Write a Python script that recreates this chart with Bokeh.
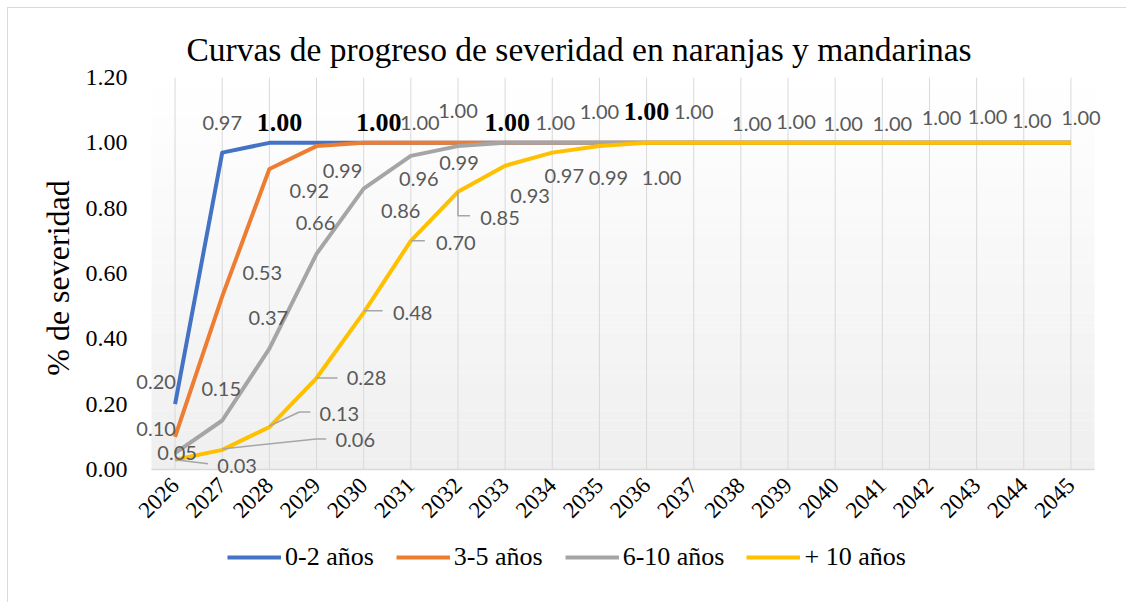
import math
from bokeh.plotting import figure
from bokeh.layouts import column
from bokeh.models import (FixedTicker, NumeralTickFormatter, Legend, LegendItem,
                          ColumnDataSource, Range1d)
from bokeh.core.properties import value
from bokeh.embed import file_html
from bokeh.resources import INLINE

# ---------------- data ----------------
years = [2026, 2027, 2028, 2029, 2030, 2031, 2032, 2033, 2034, 2035,
         2036, 2037, 2038, 2039, 2040, 2041, 2042, 2043, 2044, 2045]
series_names = ["0-2 años", "3-5 años", "6-10 años", "+ 10 años"]
sev_0_2 = [0.20, 0.97, 1.00, 1.00, 1.00, 1.00, 1.00, 1.00, 1.00, 1.00,
           1.00, 1.00, 1.00, 1.00, 1.00, 1.00, 1.00, 1.00, 1.00, 1.00]
sev_3_5 = [0.10, 0.53, 0.92, 0.99, 1.00, 1.00, 1.00, 1.00, 1.00, 1.00,
           1.00, 1.00, 1.00, 1.00, 1.00, 1.00, 1.00, 1.00, 1.00, 1.00]
sev_6_10 = [0.05, 0.15, 0.37, 0.66, 0.86, 0.96, 0.99, 1.00, 1.00, 1.00,
            1.00, 1.00, 1.00, 1.00, 1.00, 1.00, 1.00, 1.00, 1.00, 1.00]
sev_10p = [0.03, 0.06, 0.13, 0.28, 0.48, 0.70, 0.85, 0.93, 0.97, 0.99,
           1.00, 1.00, 1.00, 1.00, 1.00, 1.00, 1.00, 1.00, 1.00, 1.00]
y_ticks = [0.0, 0.2, 0.4, 0.6, 0.8, 1.0, 1.2]
title_text = "Curvas de progreso de severidad en naranjas y mandarinas"
y_title = "% de severidad"

# ---------------- styles ----------------
colors = ["#4472C4", "#ED7D31", "#A5A5A5", "#FFC000"]
SERIF = "Liberation Serif"
LABEL_FONT = "Lato"
LABEL_COLOR = "#595959"
BORDER = "1px solid #d9d9d9"

# label offsets in pixels (dx, dy) for every point; None = no label; bold flag
lab_0_2 = [(-19, -22), (0, -30), (10, -20), None, (15, -20), (9, -20), (0, -32),
           (2, -20), (3, -20), (0, -31), (0, -31), (0, -31), (11, -19), (8, -21),
           (8, -19), (10, -19), (12, -25), (11, -26), (8, -22), (10, -25)]
bold_0_2 = [False, False, True, False, True, False, False, True, False, False,
            True, False, False, False, False, False, False, False, False, False]
lab_3_5 = [(-19, -8), (40, -23), (40, 22), (26, 25)] + [None] * 16
lab_6_10 = [(2, 0), (-1, -32), (-1, -31), (-1, -31), (37, 22), (8, 23), (1, 17)] + [None] * 13
lab_10p = [(62, 6), (133, -10), (70, -13), (50, 0), (49, 0), (45, 2), (42, 26),
           (25, 30), (12, 23), (9, 32), (15, 35)] + [None] * 9
# leader line waypoints (pixel offsets from the point) for the "+ 10 años" labels
lead_10p = [[(0, 0), (33, 4)], [(0, -1), (94, -11), (104, -11)],
            [(0, -1), (30, -15), (41, -15)], [(0, 0), (21, 0)], [(0, -2), (19, -2)],
            [(0, 0), (14, 0)], [(0, 0), (0, 24), (12, 24)]]

# plot area (categories) and extra frame room for labels, in pixels
AREA_W, AREA_H = 943, 392
PAD_L, PAD_R, PAD_B = 20, 15, 9
A0, A1 = 2025.5, 2045.5          # category band edges
Y0, Y1 = 0.0, 1.2
PX_X = AREA_W / (A1 - A0)
PX_Y = AREA_H / (Y1 - Y0)
FRAME_W = AREA_W + PAD_L + PAD_R
FRAME_H = AREA_H + PAD_B
ML, MT = 123, 69
W, H1, H2 = 1118, 532, 62

p = figure(width=W, height=H1, output_backend="svg", toolbar_location=None,
           x_range=Range1d(A0 - PAD_L / PX_X, A1 + PAD_R / PX_X),
           y_range=Range1d(Y0 - PAD_B / PX_Y, Y1),
           min_border_left=ML, min_border_right=W - ML - FRAME_W,
           min_border_top=MT, min_border_bottom=H1 - MT - FRAME_H)
p.outline_line_color = None
p.background_fill_color = "white"
p.border_fill_color = "white"

# plot-area gradient (white at top to light gray at bottom)
nb = 40
b_bottom = [Y0 + (Y1 - Y0) * i / nb for i in range(nb)]
b_top = [Y0 + (Y1 - Y0) * (i + 1) / nb for i in range(nb)]
b_cols = []
for i in range(nb):
    t = (i + 0.5) / nb
    g = int(round(239 + (255 - 239) * t))
    b_cols.append("#%02x%02x%02x" % (g, g, g))
bands = p.quad(left=A0, right=A1, bottom=b_bottom, top=b_top, fill_color=b_cols,
               line_color=None)
bands.level = "image"
# vertical gridlines at each category and the category axis line
grid = p.segment(x0=years, y0=Y0, x1=years, y1=Y1, line_color="#d9d9d9", line_width=1)
grid.level = "image"
axl = p.segment(x0=[A0], y0=[Y0], x1=[A1], y1=[Y0], line_color="#d9d9d9", line_width=1.5)
axl.level = "image"

# axes
p.xaxis.ticker = FixedTicker(ticks=years)
p.xaxis.major_label_orientation = math.pi / 4
p.xaxis.axis_line_color = None
p.xaxis.major_tick_line_color = None
p.xaxis.minor_tick_line_color = None
p.xaxis.major_tick_out = 0
p.xaxis.major_tick_in = 0
p.xaxis.major_label_text_font = SERIF
p.xaxis.major_label_text_font_size = "23px"
p.xaxis.major_label_text_color = "black"
p.xaxis.major_label_standoff = 3

p.yaxis.ticker = FixedTicker(ticks=y_ticks)
p.yaxis.formatter = NumeralTickFormatter(format="0.00")
p.yaxis.axis_line_color = None
p.yaxis.major_tick_line_color = None
p.yaxis.minor_tick_line_color = None
p.yaxis.major_tick_out = 0
p.yaxis.major_tick_in = 0
p.yaxis.major_label_text_font = SERIF
p.yaxis.major_label_text_font_size = "24px"
p.yaxis.major_label_text_color = "black"
p.yaxis.major_label_standoff = 4
p.yaxis.axis_label = y_title
p.yaxis.axis_label_text_font = SERIF
p.yaxis.axis_label_text_font_size = "32px"
p.yaxis.axis_label_text_font_style = "normal"
p.yaxis.axis_label_text_color = "black"
p.yaxis.axis_label_standoff = 7

p.xgrid.grid_line_color = None
p.ygrid.grid_line_color = None

p.title.text = title_text
p.title.text_font = SERIF
p.title.text_font_size = "33.5px"
p.title.text_font_style = "normal"
p.title.text_color = "black"
p.title.align = "left"
p.title.offset = 55
p.title.standoff = 20

# lines
all_series = [sev_0_2, sev_3_5, sev_6_10, sev_10p]
for vals, col in zip(all_series, colors):
    p.line(years, vals, line_width=4, line_color=col, line_join="round")

# leader lines
lx, ly = [], []
for i, pts in enumerate(lead_10p):
    lx.append([years[i] + dx / PX_X for dx, dy in pts])
    ly.append([sev_10p[i] - dy / PX_Y for dx, dy in pts])
p.multi_line(lx, ly, line_color="#a6a6a6", line_width=1.5)

# data labels
def add_labels(vals, labs, bolds=None):
    norm = dict(x=[], y=[], t=[], dx=[], dy=[])
    bold = dict(x=[], y=[], t=[], dx=[], dy=[])
    for i, lab in enumerate(labs):
        if lab is None:
            continue
        d = bold if (bolds is not None and bolds[i]) else norm
        d["x"].append(years[i])
        d["y"].append(vals[i])
        d["t"].append("%.2f" % vals[i])
        d["dx"].append(lab[0])
        d["dy"].append(lab[1])
    if norm["x"]:
        p.text(x="x", y="y", text="t", x_offset="dx", y_offset="dy",
               source=ColumnDataSource(norm), text_font=value(LABEL_FONT),
               text_font_size="20px", text_color=LABEL_COLOR,
               text_align="center", text_baseline="middle")
    if bold["x"]:
        p.text(x="x", y="y", text="t", x_offset="dx", y_offset="dy",
               source=ColumnDataSource(bold), text_font=value(SERIF),
               text_font_size="26px", text_font_style="bold", text_color="black",
               text_align="center", text_baseline="middle")

add_labels(sev_10p, lab_10p)
add_labels(sev_6_10, lab_6_10)
add_labels(sev_3_5, lab_3_5)
add_labels(sev_0_2, lab_0_2, bold_0_2)

# legend strip below the chart (its own small figure; the series lie outside its range)
lg = figure(width=W, height=H2, output_backend="svg", toolbar_location=None,
            x_range=Range1d(0, 1), y_range=Range1d(0, 1),
            min_border_left=0, min_border_right=0, min_border_top=0, min_border_bottom=0)
lg.axis.visible = False
lg.grid.visible = False
lg.outline_line_color = None
lg.background_fill_color = "white"
lg.border_fill_color = "white"
swatches = [lg.line(years, vals, line_width=4, line_color=c)
            for vals, c in zip(all_series, colors)]
legend = Legend(items=[LegendItem(label=n, renderers=[r]) for n, r in zip(series_names, swatches)],
                orientation="horizontal", location=(96, 30),
                border_line_color=None, background_fill_alpha=0,
                padding=0, margin=0, spacing=22, label_standoff=4,
                glyph_width=54, glyph_height=26,
                label_text_font=SERIF, label_text_font_size="26px",
                label_text_color="black")
lg.add_layout(legend)

layout = column(p, lg, spacing=0)
layout.styles = {"margin-left": "7px", "margin-top": "7px",
                 "border-left": BORDER, "border-top": BORDER}
open("out.html", "w").write(file_html(layout, INLINE))
